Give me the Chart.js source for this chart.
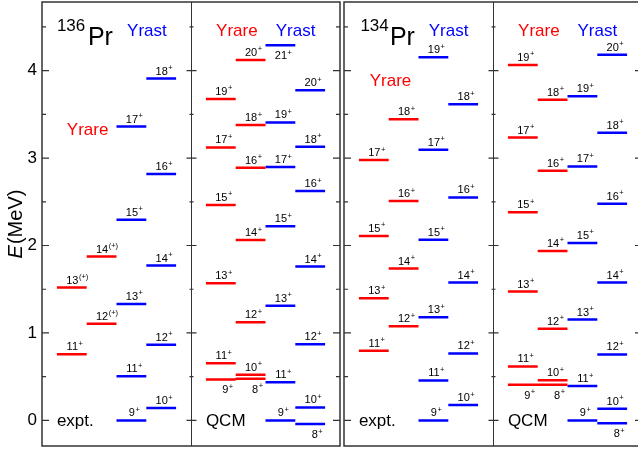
<!DOCTYPE html>
<html>
<head>
<meta charset="utf-8">
<script src="https://cdn.jsdelivr.net/npm/chart.js@4.4.0/dist/chart.umd.min.js"></script>
<style>
  html, body { margin: 0; padding: 0; background: #fff; overflow: hidden; width: 638px; height: 450px; }
  #left { position: absolute; left: 0; top: 0; }
  #right { position: absolute; left: 342px; top: 0; }
</style>
</head>
<body>
<canvas id="left" width="342" height="450"></canvas>
<canvas id="right" width="302" height="450"></canvas>
<script>
// energy axis labels (MeV)
const yTicks = [0, 1, 2, 3, 4];

// 136Pr, experiment
const pr136ExptYrareSpin = [11, 12, 13, 14];
const pr136ExptYrareParity = ['+', '(+)', '(+)', '(+)'];
const pr136ExptYrareE = [0.757, 1.104, 1.519, 1.873];
const pr136ExptYrastSpin = [9, 10, 11, 12, 13, 14, 15, 16, 17, 18];
const pr136ExptYrastE = [0, 0.141, 0.506, 0.864, 1.332, 1.770, 2.295, 2.817, 3.361, 3.909];

// 136Pr, QCM
const pr136QcmYrareSpin = [8, 9, 10, 11, 12, 13, 14, 15, 16, 17, 18, 19, 20];
const pr136QcmYrareE = [0.476, 0.468, 0.522, 0.654, 1.122, 1.568, 2.063, 2.464, 2.889, 3.121, 3.377, 3.677, 4.122];
const pr136QcmYrastSpin = [8, 9, 10, 11, 12, 13, 14, 15, 16, 17, 18, 19, 20, 21];
const pr136QcmYrastE = [-0.042, 0, 0.148, 0.437, 0.871, 1.310, 1.759, 2.219, 2.623, 2.897, 3.129, 3.407, 3.776, 4.290];

// 134Pr, experiment
const pr134ExptYrareSpin = [11, 12, 13, 14, 15, 16, 17, 18];
const pr134ExptYrareE = [0.796, 1.077, 1.397, 1.736, 2.109, 2.509, 2.977, 3.445];
const pr134ExptYrastSpin = [9, 10, 11, 12, 13, 14, 15, 16, 17, 18, 19];
const pr134ExptYrastE = [0, 0.175, 0.457, 0.765, 1.180, 1.576, 2.067, 2.550, 3.095, 3.616, 4.153];

// 134Pr, QCM
const pr134QcmYrareSpin = [8, 9, 10, 11, 12, 13, 14, 15, 16, 17, 18, 19];
const pr134QcmYrareE = [0.408, 0.408, 0.460, 0.617, 1.047, 1.473, 1.938, 2.379, 2.855, 3.235, 3.666, 4.065];
const pr134QcmYrastSpin = [8, 9, 10, 11, 12, 13, 14, 15, 16, 17, 18, 19, 20];
const pr134QcmYrastE = [-0.034, 0, 0.134, 0.392, 0.754, 1.153, 1.576, 2.029, 2.478, 2.904, 3.289, 3.708, 4.183];

const FONT = '"Liberation Sans", Arial, Helvetica, sans-serif';
const RED = '#ff0000';
const BLUE = '#0000ff';

// odd spins sit in the left column of a band, even spins in the right one
function bandColumn(kind, spin) {
  return (kind === 'yrast' ? 3 : 1) + (spin % 2 === 0 ? 1 : 0);
}

function levelPoints(offset, b) {
  const pts = [];
  b.spins.forEach((s, i) => {
    const c = offset + bandColumn(b.kind, s);
    pts.push({ x: c - 0.5, y: b.energies[i] }, { x: c + 0.5, y: b.energies[i] }, { x: c + 0.5, y: null });
  });
  return pts;
}

const panelsLeft = [
  { offset: 0, below: [], bands: [
    { kind: 'yrare', spins: pr136ExptYrareSpin, energies: pr136ExptYrareE, parity: pr136ExptYrareParity },
    { kind: 'yrast', spins: pr136ExptYrastSpin, energies: pr136ExptYrastE }
  ] },
  { offset: 5, below: ['yrare:8', 'yrare:9', 'yrast:8', 'yrast:21'], bands: [
    { kind: 'yrare', spins: pr136QcmYrareSpin, energies: pr136QcmYrareE },
    { kind: 'yrast', spins: pr136QcmYrastSpin, energies: pr136QcmYrastE }
  ] }
];
const panelsRight = [
  { offset: 0, below: [], bands: [
    { kind: 'yrare', spins: pr134ExptYrareSpin, energies: pr134ExptYrareE },
    { kind: 'yrast', spins: pr134ExptYrastSpin, energies: pr134ExptYrastE }
  ] },
  { offset: 5, below: ['yrare:8', 'yrare:9', 'yrast:8'], bands: [
    { kind: 'yrare', spins: pr134QcmYrareSpin, energies: pr134QcmYrareE },
    { kind: 'yrast', spins: pr134QcmYrastSpin, energies: pr134QcmYrastE }
  ] }
];

const textsLeft = [
  { t: '136', x: 0.5, y: 4.457, size: 17, color: '#000', align: 'left' },
  { t: 'Pr', x: 1.54, y: 4.294, size: 25, color: '#000', align: 'left' },
  { t: 'Yrast', x: 3.52, y: 4.396, size: 17, color: BLUE, align: 'center' },
  { t: 'Yrare', x: 1.53, y: 3.266, size: 17, color: RED, align: 'center' },
  { t: 'expt.', x: 0.5, y: -0.069, size: 17, color: '#000', align: 'left' },
  { t: 'Yrare', x: 6.54, y: 4.396, size: 17, color: RED, align: 'center' },
  { t: 'Yrast', x: 8.51, y: 4.396, size: 17, color: BLUE, align: 'center' },
  { t: 'QCM', x: 5.5, y: -0.069, size: 17, color: '#000', align: 'left' }
];
const textsRight = [
  { t: '134', x: 0.55, y: 4.457, size: 17, color: '#000', align: 'left' },
  { t: 'Pr', x: 1.54, y: 4.294, size: 25, color: '#000', align: 'left' },
  { t: 'Yrast', x: 3.51, y: 4.396, size: 17, color: BLUE, align: 'center' },
  { t: 'Yrare', x: 1.56, y: 3.826, size: 17, color: RED, align: 'center' },
  { t: 'expt.', x: 0.5, y: -0.069, size: 17, color: '#000', align: 'left' },
  { t: 'Yrare', x: 6.54, y: 4.396, size: 17, color: RED, align: 'center' },
  { t: 'Yrast', x: 8.5, y: 4.396, size: 17, color: BLUE, align: 'center' },
  { t: 'QCM', x: 5.5, y: -0.069, size: 17, color: '#000', align: 'left' }
];

function drawSpin(ctx, x, y, spin, parity, below) {
  const num = String(spin);
  ctx.fillStyle = '#000';
  ctx.font = '11px ' + FONT;
  ctx.textAlign = 'center';
  ctx.textBaseline = 'alphabetic';
  const w = ctx.measureText(num).width;
  const cx = x + 0.5 + (below && spin < 10 ? 4 : 0);
  const base = below ? y + 14 : y - 4;
  ctx.fillText(num, cx, base);
  ctx.font = '7.5px ' + FONT;
  ctx.textAlign = 'left';
  ctx.fillText(parity, cx + w / 2 + 0.5, base - 4.5);
}

const framePlugin = {
  id: 'frame',
  afterDatasetsDraw(chart, args, opts) {
    const ctx = chart.ctx;
    const { left, right, top, bottom } = chart.chartArea;
    const xs = chart.scales.x, ys = chart.scales.y;
    ctx.save();

    // spin labels
    opts.panels.forEach(p => p.bands.forEach(b => {
      b.spins.forEach((s, i) => {
        const c = p.offset + bandColumn(b.kind, s);
        const below = p.below.includes(b.kind + ':' + s);
        drawSpin(ctx, xs.getPixelForValue(c), ys.getPixelForValue(b.energies[i]), s,
          b.parity ? b.parity[i] : '+', below);
      });
    }));

    // text annotations
    opts.texts.forEach(t => {
      ctx.fillStyle = t.color;
      ctx.font = t.size + 'px ' + FONT;
      ctx.textAlign = t.align;
      ctx.textBaseline = 'alphabetic';
      ctx.fillText(t.t, xs.getPixelForValue(t.x), ys.getPixelForValue(t.y));
    });

    // frame, divider and ticks
    ctx.strokeStyle = '#333';
    ctx.lineWidth = 1.5;
    ctx.strokeRect(left, top, right - left, bottom - top);
    const mid = Math.round(xs.getPixelForValue(5)) + 0.5;
    ctx.lineWidth = 1;
    ctx.beginPath();
    ctx.moveTo(mid, top);
    ctx.lineTo(mid, bottom);
    ctx.stroke();
    ctx.lineWidth = 1.2;
    ctx.beginPath();
    for (let v = 0; v <= 4.5; v += 0.5) {
      const y = ys.getPixelForValue(v);
      const len = Number.isInteger(v) ? 7 : 4;
      ctx.moveTo(left, y); ctx.lineTo(left + len, y);
      ctx.moveTo(right, y); ctx.lineTo(right - len, y);
      ctx.moveTo(mid - len + 2, y); ctx.lineTo(mid + len - 2, y);
    }
    ctx.stroke();

    // axis title
    if (opts.title) {
      ctx.translate(16, (top + bottom) / 2);
      ctx.rotate(-Math.PI / 2);
      ctx.fillStyle = '#000';
      ctx.textBaseline = 'middle';
      ctx.textAlign = 'left';
      ctx.font = 'italic 20px ' + FONT;
      const wE = ctx.measureText('E').width;
      ctx.font = '20px ' + FONT;
      const wU = ctx.measureText('(MeV)').width;
      const x0 = -(wE + 1 + wU) / 2;
      ctx.font = 'italic 20px ' + FONT;
      ctx.fillText('E', x0, 0);
      ctx.font = '20px ' + FONT;
      ctx.fillText('(MeV)', x0 + wE + 1, 0);
    }
    ctx.restore();
  }
};

function makeChart(id, panels, texts, showAxis, padLeft) {
  const datasets = [];
  panels.forEach(p => p.bands.forEach(b => datasets.push({
    data: levelPoints(p.offset, b),
    borderColor: b.kind === 'yrare' ? RED : BLUE,
    borderWidth: 2.5,
    borderCapStyle: 'butt',
    pointRadius: 0,
    spanGaps: false,
    tension: 0,
    fill: false
  })));
  return new Chart(document.getElementById(id), {
    type: 'line',
    data: { datasets },
    options: {
      responsive: false,
      animation: false,
      events: [],
      layout: { padding: { top: 2, bottom: 4, left: padLeft, right: 2 } },
      scales: {
        x: { type: 'linear', min: 0, max: 10, display: false },
        y: {
          type: 'linear', min: -0.293, max: 4.785, display: showAxis,
          afterFit: showAxis ? (s) => { s.width = 42; s.paddingTop = 0; s.paddingBottom = 0; } : undefined,
          afterBuildTicks: (s) => { s.ticks = yTicks.map(v => ({ value: v })); },
          grid: { display: false, drawTicks: false },
          border: { display: false },
          ticks: { padding: 5, color: '#000', font: { size: 17, family: FONT } }
        }
      },
      plugins: {
        legend: { display: false },
        tooltip: { enabled: false },
        frame: { panels, texts, title: showAxis }
      }
    },
    plugins: [framePlugin]
  });
}

makeChart('left', panelsLeft, textsLeft, true, 0);
makeChart('right', panelsRight, textsRight, false, 2);
</script>
</body>
</html>
